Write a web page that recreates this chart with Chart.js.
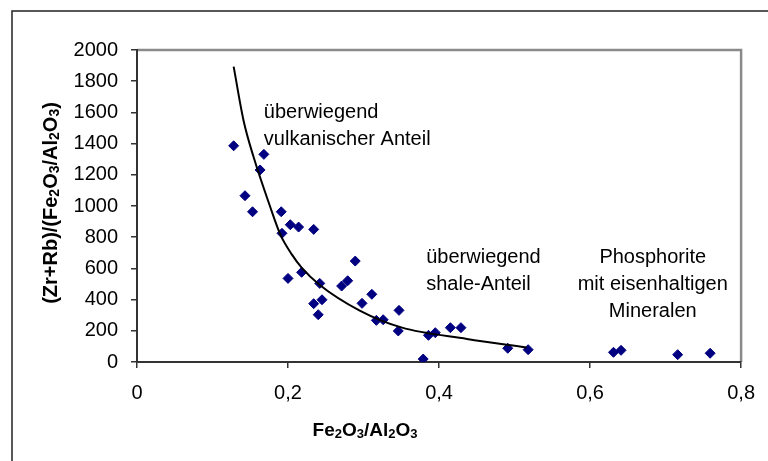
<!DOCTYPE html>
<html>
<head>
<meta charset="utf-8">
<script src="https://cdn.jsdelivr.net/npm/chart.js@4.4.0/dist/chart.umd.min.js"></script>
<style>
  html, body { margin: 0; padding: 0; background: #fff; }
  #wrap { width: 768px; height: 461px; position: relative; }
</style>
</head>
<body>
<div id="wrap"><canvas id="ratioChart"></canvas></div>
<script>
// Fe2O3/Al2O3 vs (Zr+Rb)/(Fe2O3/Al2O3)
const feAlRatio = [0.128, 0.143, 0.153, 0.163, 0.168, 0.191, 0.192, 0.200, 0.203, 0.214,
                   0.218, 0.234, 0.234, 0.240, 0.242, 0.245, 0.271, 0.279, 0.289, 0.298,
                   0.311, 0.317, 0.326, 0.346, 0.347, 0.379, 0.386, 0.395, 0.415, 0.429,
                   0.491, 0.518, 0.631, 0.641, 0.716, 0.759];
const zrRbRatio = [1386, 1066, 963, 1231, 1331, 963, 825, 536, 880, 865,
                   575, 850, 374, 303, 504, 399, 487, 521, 647, 376,
                   434, 267, 271, 199, 331, 19, 171, 188, 220, 220,
                   88, 79, 62, 75, 47, 56];

// trend curve as drawn in the figure
const trendX = [0.128, 0.141, 0.154, 0.176, 0.190, 0.205, 0.218, 0.242, 0.295, 0.350, 0.437, 0.516];
const trendY = [1893, 1550, 1320, 1000, 815, 690, 605, 494, 330, 222, 148, 93];

const xTickLabels = ['0', '0,2', '0,4', '0,6', '0,8'];

const notes = [
    { lines: ['überwiegend', 'vulkanischer Anteil'], x: 0.168, y: 1562, align: 'left' },
    { lines: ['überwiegend', 'shale-Anteil'], x: 0.383, y: 633, align: 'left' },
    { lines: ['Phosphorite', 'mit eisenhaltigen', 'Mineralen'], x: 0.683, y: 633, align: 'center' }
];

const FONT = "'Liberation Sans', Arial, sans-serif";
Chart.defaults.font.family = FONT;
Chart.defaults.color = '#000';

// draws a title where digits become subscripts, centred at x
function drawChem(ctx, text, x, y, size) {
    const parts = text.split(/(\d+)/).filter(p => p.length);
    const subSize = Math.round(size * 0.68);
    let total = 0;
    parts.forEach(p => {
        ctx.font = 'bold ' + (/\d/.test(p) ? subSize : size) + 'px ' + FONT;
        total += ctx.measureText(p).width;
    });
    let cx = x - total / 2;
    ctx.textAlign = 'left';
    ctx.textBaseline = 'alphabetic';
    parts.forEach(p => {
        const sub = /\d/.test(p);
        ctx.font = 'bold ' + (sub ? subSize : size) + 'px ' + FONT;
        ctx.fillText(p, cx, sub ? y + size * 0.1 : y);
        cx += ctx.measureText(p).width;
    });
}

const decor = {
    id: 'decor',
    beforeDraw(chart) {
        const ctx = chart.ctx;
        const a = chart.chartArea;
        ctx.save();
        // outer frame
        ctx.strokeStyle = '#222';
        ctx.lineWidth = 1.5;
        ctx.beginPath();
        ctx.moveTo(12, chart.height);
        ctx.lineTo(12, 11);
        ctx.lineTo(chart.width, 11);
        ctx.stroke();
        // plot area border (top / right)
        ctx.strokeStyle = '#8a8a8a';
        ctx.lineWidth = 2.5;
        ctx.beginPath();
        ctx.moveTo(a.left, a.top);
        ctx.lineTo(a.right, a.top);
        ctx.lineTo(a.right, a.bottom);
        ctx.stroke();
        ctx.restore();
    },
    afterDraw(chart) {
        const ctx = chart.ctx;
        const xs = chart.scales.x, ys = chart.scales.y;
        ctx.save();
        ctx.fillStyle = '#000';
        ctx.font = '20px ' + FONT;
        ctx.textBaseline = 'alphabetic';
        notes.forEach(n => {
            ctx.textAlign = n.align;
            const px = xs.getPixelForValue(n.x);
            const py = ys.getPixelForValue(n.y);
            n.lines.forEach((line, i) => ctx.fillText(line, px, py + i * 27));
        });
        // axis titles
        drawChem(ctx, 'Fe2O3/Al2O3', 365, 436, 19);
        ctx.translate(57, 203);
        ctx.rotate(-Math.PI / 2);
        drawChem(ctx, '(Zr+Rb)/(Fe2O3/Al2O3)', 0, 0, 20);
        ctx.restore();
    }
};

const ctx = document.getElementById('ratioChart').getContext('2d');

new Chart(ctx, {
    type: 'scatter',
    data: {
        datasets: [
            {
                label: 'Trend',
                data: trendX.map((x, i) => ({ x: x, y: trendY[i] })),
                showLine: true,
                borderColor: '#000',
                borderWidth: 2,
                pointRadius: 0,
                cubicInterpolationMode: 'monotone',
                fill: false
            },
            {
                label: 'Proben',
                data: feAlRatio.map((x, i) => ({ x: x, y: zrRbRatio[i] })),
                pointStyle: 'rectRot',
                pointRadius: 5,
                borderWidth: 1,
                backgroundColor: '#000080',
                borderColor: '#000080'
            }
        ]
    },
    options: {
        responsive: true,
        maintainAspectRatio: false,
        animation: false,
        layout: { padding: { left: 0, top: 50, right: 26, bottom: 0 } },
        plugins: {
            legend: { display: false },
            tooltip: { enabled: false }
        },
        scales: {
            x: {
                type: 'linear',
                min: 0,
                max: 0.8,
                afterFit: s => { s.height = 99; },
                ticks: {
                    stepSize: 0.2,
                    padding: 13,
                    font: { size: 20 },
                    callback: (v, i) => xTickLabels[i]
                },
                grid: { drawOnChartArea: false, tickLength: 6, color: '#333', lineWidth: 1.5 },
                border: { color: '#333', width: 2 }
            },
            y: {
                min: 0,
                max: 2000,
                afterFit: s => { s.width = 137; },
                ticks: {
                    stepSize: 200,
                    padding: 13,
                    font: { size: 20 },
                    callback: v => String(v)
                },
                grid: { drawOnChartArea: false, tickLength: 6, color: '#333', lineWidth: 1.5 },
                border: { color: '#333', width: 2 }
            }
        }
    },
    plugins: [decor]
});
</script>
</body>
</html>
